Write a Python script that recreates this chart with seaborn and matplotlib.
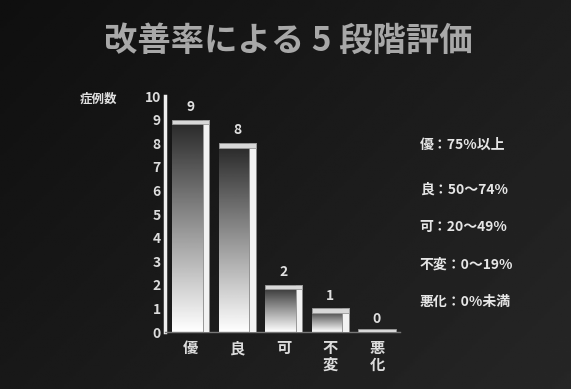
import numpy as np
import pandas as pd
import matplotlib
matplotlib.use("Agg")
import matplotlib.pyplot as plt
from matplotlib.patches import Rectangle
import seaborn as sns

categories = ["優", "良", "可", "不\n変", "悪\n化"]
counts = [9, 8, 2, 1, 0]
yticks = list(range(0, 11))
legend_lines = ["優：75%以上", "良：50〜74%", "可：20〜49%", "不変：0〜19%", "悪化：0%未満"]
title = "改善率による 5 段階評価"
ylabel = "症例数"

sns.set_theme(style="dark")
plt.rcParams['font.family'] = ['Noto Sans CJK JP', 'DejaVu Sans']

fig = plt.figure(figsize=(5.71, 3.89), dpi=100)
# background gradient
bg = fig.add_axes([0, 0, 1, 1], zorder=-5)
gx = np.linspace(0, 1, 200)
gy = np.linspace(0, 1, 200)
G = 0.06 + 0.09 * (gx[None, :] * 0.6 + gy[:, None] * 0.4)
bg.imshow(G, cmap="gray", vmin=0, vmax=1, aspect="auto", extent=[0, 1, 0, 1], origin="upper")
bg.set_axis_off()

ax = fig.add_axes([0.289, 0.1465, 0.412, 0.6065])
ax.set_facecolor((0, 0, 0, 0))
df = pd.DataFrame({"cat": categories, "n": counts})
sns.barplot(data=df, x="cat", y="n", ax=ax, color="white", width=0.8, edgecolor="none")
ax.set_ylim(0, 10)
ax.set_xlim(-0.55, 4.5)

grad = np.linspace(0.15, 1.0, 256)[:, None]
for p, v in zip(ax.patches, counts):
    x0, w, h = p.get_x(), p.get_width(), p.get_height()
    if h > 0:
        im = ax.imshow(grad, cmap="gray", vmin=0, vmax=1, aspect="auto",
                       extent=[x0, x0 + w * 0.82, 0, h], origin="upper", zorder=2)
        im.set_clip_path(p)
        ax.add_patch(Rectangle((x0 + w * 0.82, 0), w * 0.18, h, facecolor="#f2f2f2",
                               edgecolor="#888888", lw=0.6, zorder=3))
        ax.add_patch(Rectangle((x0, h - 0.18), w, 0.18, facecolor="#d8d8d8",
                               edgecolor="#999999", lw=0.6, zorder=3))
    else:
        ax.add_patch(Rectangle((x0, 0), w, 0.12, facecolor="#d8d8d8",
                               edgecolor="#999999", lw=0.6, zorder=3))
    ax.text(x0 + w / 2, h + 0.25, str(v), ha="center", va="bottom",
            color="#e0e0e0", fontsize=10, fontweight="bold", zorder=4)

ax.set_yticks(yticks)
ax.set_yticklabels([str(t) for t in yticks])
ax.tick_params(axis="both", colors="#d8d8d8", labelsize=10, length=0, pad=3)
for lab in ax.get_xticklabels() + ax.get_yticklabels():
    lab.set_fontweight("bold")
    lab.set_color("#dcdcdc")
ax.tick_params(axis="x", pad=6, labelsize=11)
for lab in ax.get_xticklabels():
    lab.set_linespacing(1.0)
ax.set_xlabel("")
ax.set_ylabel("")
for s in ["top", "right"]:
    ax.spines[s].set_visible(False)
ax.spines["left"].set_color("#eeeeee")
ax.spines["left"].set_linewidth(2.5)
ax.spines["bottom"].set_color("#777777")
ax.spines["bottom"].set_linewidth(1.0)
ax.grid(False)

fig.text(0.172, 0.745, ylabel, color="#e0e0e0", fontsize=9, fontweight="bold", ha="center", va="center")
fig.text(0.505, 0.895, title, color="#a8a8a8", fontsize=24, fontweight="bold", ha="center", va="center")

ys = [0.627, 0.512, 0.417, 0.319, 0.224]
for y, t in zip(ys, legend_lines):
    fig.text(0.735, y, t, color="#e6e6e6", fontsize=10, fontweight="bold", ha="left", va="center")

fig.savefig("out.png", dpi=100, facecolor="#1a1a1a")
